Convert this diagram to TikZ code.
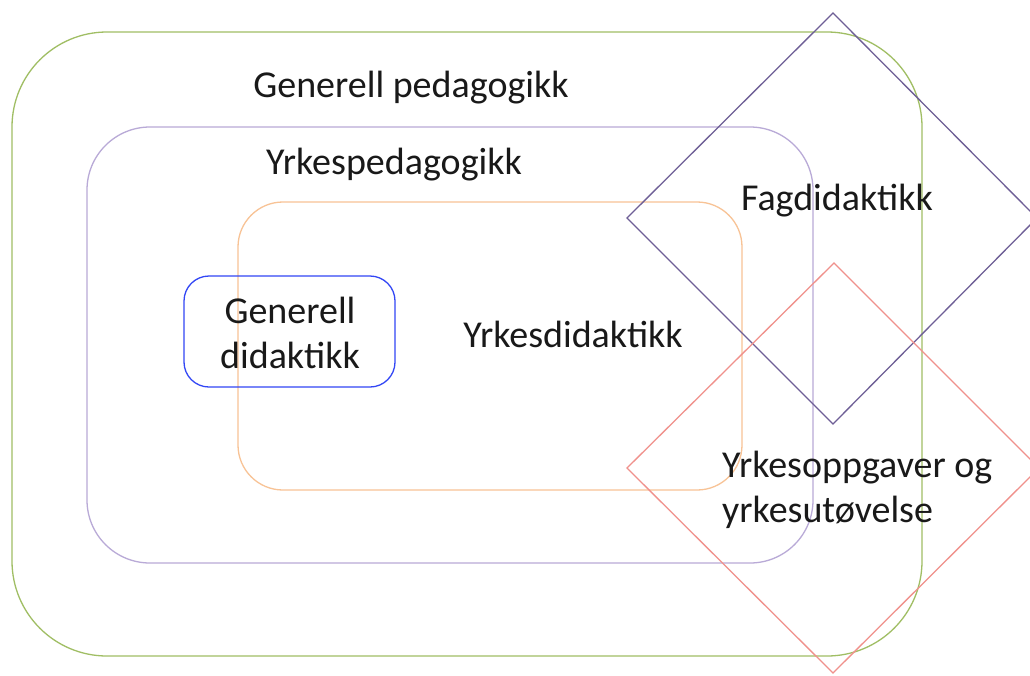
\documentclass[tikz,border=0pt]{standalone}
\usepackage{fontspec}
\setmainfont{Carlito}
\definecolor{cgreen}{RGB}{160,190,100}
\definecolor{clav}{RGB}{185,170,215}
\definecolor{corange}{RGB}{248,195,150}
\definecolor{cblue}{RGB}{50,70,245}
\definecolor{cdia}{RGB}{110,95,150}
\definecolor{cred}{RGB}{240,145,140}
\tikzset{
  lbl/.style={font=\fontsize{38}{45}\selectfont, inner sep=0pt, text=black!90},
  box/.style={line width=1.3pt}
}
\begin{document}
\begin{tikzpicture}[x=1pt,y=-1pt]
\useasboundingbox (0,0) rectangle (1030,675);
\fill[white] (0,0) rectangle (1030,675);
% rounded rectangles
\draw[box, draw=cgreen, rounded corners=95pt] (12,32) rectangle (922,656);
\draw[box, draw=clav, rounded corners=63pt] (87,127) rectangle (813,563);
\draw[box, draw=corange, rounded corners=45pt] (238,202) rectangle (742,490);
\draw[box, draw=cblue, rounded corners=25pt] (184,276) rectangle (395,387);
% diamonds
\draw[box, draw=cdia] (833,13) -- (1037,218) -- (833,424) -- (627,218) -- cycle;
\draw[box, draw=cred] (834,263) -- (1039,468) -- (833,673) -- (627,468) -- cycle;
% labels
\node[lbl, anchor=base] (gp) at (411,97) {Generell pedagogikk};
\node[lbl, anchor=base] (yp) at (394,174) {Yrkespedagogikk};
\node[lbl, anchor=base] (fd) at (837,210) {Fagdidaktikk};
\node[lbl, anchor=base] (yd) at (573,347) {Yrkesdidaktikk};
\node[lbl, align=center, anchor=base] (gd) at (290,368) {Generell\\didaktikk};
\node[lbl, align=left, anchor=base west] (yo) at (722,522) {Yrkesoppgaver og\\yrkesutøvelse};
\end{tikzpicture}
\end{document}
